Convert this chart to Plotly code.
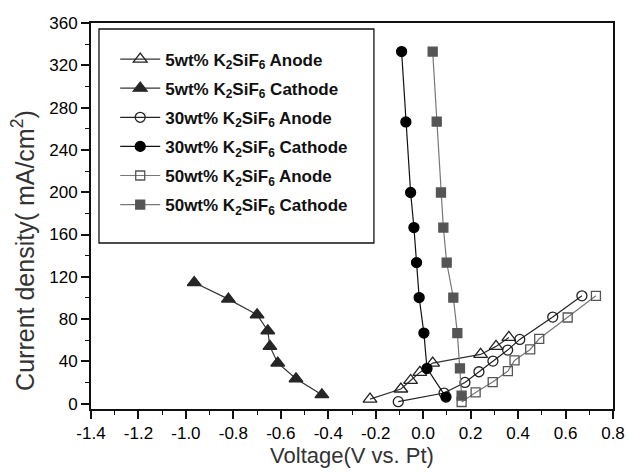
import plotly.graph_objects as go

# 5wt% K2SiF6
x5_anode = [-0.224, -0.094, -0.053, -0.014, 0.040, 0.242, 0.307, 0.361]
y5_anode = [4.4, 13.9, 22.0, 29.6, 38.4, 46.6, 54.2, 62.7]
x5_cath = [-0.965, -0.821, -0.700, -0.655, -0.646, -0.613, -0.536, -0.427]
y5_cath = [114.6, 98.9, 84.1, 69.0, 54.2, 38.5, 23.6, 8.5]

# 30wt% K2SiF6
x30_anode = [-0.105, 0.088, 0.176, 0.235, 0.294, 0.356, 0.407, 0.546, 0.669]
y30_anode = [1.9, 10.1, 20.1, 30.2, 40.3, 50.7, 60.8, 81.9, 102.0]
x30_cath = [-0.091, -0.073, -0.053, -0.039, -0.028, -0.017, 0.003, 0.016, 0.096]
y30_cath = [333.0, 266.5, 199.7, 166.6, 133.5, 100.4, 66.8, 33.4, 6.3]

# 50wt% K2SiF6
x50_anode = [0.162, 0.221, 0.293, 0.357, 0.385, 0.451, 0.489, 0.609, 0.728]
y50_anode = [1.6, 10.7, 20.5, 30.9, 40.9, 51.3, 61.4, 81.5, 102.0]
x50_cath = [0.040, 0.057, 0.075, 0.085, 0.099, 0.127, 0.144, 0.155, 0.162]
y50_cath = [333.0, 266.8, 199.7, 166.6, 133.5, 100.4, 66.8, 33.4, 7.6]

x_ticks = [-1.4, -1.2, -1.0, -0.8, -0.6, -0.4, -0.2, 0.0, 0.2, 0.4, 0.6, 0.8]
x_tick_text = ["-1.4", "-1.2", "-1.0", "-0.8", "-0.6", "-0.4", "-0.2", "0.0", "0.2", "0.4", "0.6", "0.8"]
y_ticks = [0, 40, 80, 120, 160, 200, 240, 280, 320, 360]

x_title = "Voltage(V vs. Pt)"
y_title = "Current density( mA/cm<sup>2</sup>)"

K = "K<sub>2</sub>SiF<sub>6</sub>"
series = [
    ("5wt% " + K + " Anode", x5_anode, y5_anode, "triangle-up-open", 12, "#222222", "#333333"),
    ("5wt% " + K + " Cathode", x5_cath, y5_cath, "triangle-up", 12, "#262626", "#333333"),
    ("30wt% " + K + " Anode", x30_anode, y30_anode, "circle-open", 10, "#222222", "#222222"),
    ("30wt% " + K + " Cathode", x30_cath, y30_cath, "circle", 10, "#000000", "#111111"),
    ("50wt% " + K + " Anode", x50_anode, y50_anode, "square-open", 9, "#555555", "#777777"),
    ("50wt% " + K + " Cathode", x50_cath, y50_cath, "square", 9, "#555555", "#777777"),
]

fig = go.Figure()
for i, (name, xs, ys, sym, size, mcol, lcol) in enumerate(series):
    fig.add_trace(go.Scatter(
        x=xs, y=ys, name=name, mode="lines+markers",
        legendgroup=f"g{i}",
        line=dict(color=lcol, width=1.2),
        marker=dict(symbol=sym, size=size, color=mcol,
                    line=dict(color=mcol, width=1.3)),
    ))

font_family = "Liberation Sans, Arial, sans-serif"

# legend frame drawn as a shape (paper coordinates)
fig.add_shape(type="rect", xref="paper", yref="paper",
              x0=0.0153, x1=0.542, y0=0.430, y1=0.9845,
              line=dict(color="#111111", width=1.3), fillcolor="white", layer="below")

# y-axis title as annotation (placed slightly below plot centre as in the reference)
fig.add_annotation(text=y_title, xref="paper", yref="paper",
                   x=-0.1300, y=0.41, xanchor="center", yanchor="middle",
                   textangle=-90, showarrow=False,
                   font=dict(size=25, family=font_family, color="#333333"))

fig.update_layout(
    width=628, height=475,
    margin=dict(l=91, r=15, t=23, b=66),
    paper_bgcolor="white", plot_bgcolor="white",
    font=dict(family=font_family, color="#111111"),
    showlegend=True,
    legend=dict(
        x=0.0464, y=0.952, xanchor="left", yanchor="top",
        bgcolor="rgba(0,0,0,0)", borderwidth=0,
        font=dict(size=17, family=font_family, color="#111111", weight="bold"),
        tracegroupgap=4, traceorder="grouped",
        itemwidth=40,
    ),
    xaxis=dict(
        range=[-1.4, 0.8], tickvals=x_ticks, ticktext=x_tick_text,
        automargin=False,
        showgrid=False, zeroline=False,
        showline=True, linecolor="#111111", linewidth=2, mirror=True,
        ticks="outside", ticklen=8, tickwidth=1.5, tickcolor="#111111",
        minor=dict(ticks="outside", ticklen=4, tickwidth=1.2, tickcolor="#111111", dtick=0.1),
        tickfont=dict(size=17, family=font_family, color="#000000"),
        title=dict(text=x_title, font=dict(size=22, family=font_family, color="#333333"), standoff=4),
    ),
    yaxis=dict(
        range=[-5, 360], tickvals=y_ticks,
        automargin=False,
        showgrid=False, zeroline=False,
        showline=True, linecolor="#111111", linewidth=2, mirror=True,
        ticks="outside", ticklen=8, tickwidth=1.5, tickcolor="#111111",
        minor=dict(ticks="outside", ticklen=4, tickwidth=1.2, tickcolor="#111111", dtick=20),
        tickfont=dict(size=17, family=font_family, color="#000000"),
    ),
)

fig.write_html("out.html")
